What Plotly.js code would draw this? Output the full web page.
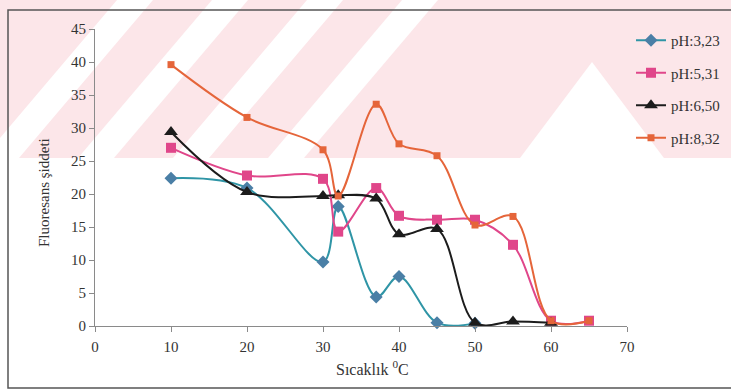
<!DOCTYPE html>
<html>
<head>
<meta charset="utf-8">
<script src="https://cdn.plot.ly/plotly-3.0.1.min.js"></script>
<style>
html,body{margin:0;padding:0;background:#fff;}
#chart{width:731px;height:390px;}
</style>
</head>
<body>
<div id="chart"></div>
<script>
// Temperatures (°C)
const temps = [10, 20, 30, 32, 37, 40, 45, 50, 55, 60, 65];
// Series values (fluorescence intensity)
const ph323 = [22.4, 20.9, 9.7, 18.1, 4.4, 7.5, 0.5, 0.4];
const ph531 = [27.0, 22.8, 22.3, 14.3, 20.9, 16.7, 16.1, 16.1, 12.3, 0.8, 0.8];
const ph650 = [29.4, 20.3, 19.7, 19.8, 19.3, 13.9, 14.7, 0.5, 0.7, 0.5];
const ph832 = [39.6, 31.6, 26.7, 19.7, 33.6, 27.6, 25.8, 15.3, 16.6, 0.8, 0.8];
const seriesNames = ['pH:3,23', 'pH:5,31', 'pH:6,50', 'pH:8,32'];
const xTicks = [0, 10, 20, 30, 40, 50, 60, 70];
const yTicks = [0, 5, 10, 15, 20, 25, 30, 35, 40, 45];

const L = 95, R = 627, T = 29, B = 326, W = 731, H = 390;
const px = v => (v - L) / (R - L);
const py = v => (B - v) / (B - T);

function mk(vals, name, lineColor, mColor, symbol, size, group) {
  return {
    x: temps.slice(0, vals.length), y: vals, name: name,
    type: 'scatter', mode: 'lines+markers',
    line: {color: lineColor, width: 2, shape: 'spline', smoothing: 1},
    marker: {color: mColor, symbol: symbol, size: size, line: {width: 0}},
    legendgroup: group, cliponaxis: false
  };
}

const data = [
  mk(ph323, seriesNames[0], '#2f95a6', '#4a7fa6', 'diamond', 10, 'a'),
  mk(ph531, seriesNames[1], '#e0468a', '#e0468a', 'square', 10, 'b'),
  mk(ph650, seriesNames[2], '#1c1c1c', '#1c1c1c', 'triangle-up', 12, 'c'),
  mk(ph832, seriesNames[3], '#e5653a', '#e5653a', 'square', 7, 'd')
];

const font = {family: '"Liberation Serif", "Times New Roman", serif', size: 15, color: '#333'};

// faint scanned watermark band (pixel geometry -> paper coords)
function poly(pts) {
  return 'M' + pts.map(p => px(p[0]).toFixed(4) + ',' + py(p[1]).toFixed(4)).join('L') + 'Z';
}
const pink = '#fce6e9';
const wm = [];
wm.push({type: 'path', xref: 'paper', yref: 'paper', layer: 'below', line: {width: 0},
         fillcolor: pink, path: poly([[0, 0], [731, 0], [731, 158], [0, 158]])});
[135, 230, 325, 420].forEach(c => {
  const w = 18, d = 134;
  wm.push({type: 'path', xref: 'paper', yref: 'paper', layer: 'below', line: {width: 0},
           fillcolor: '#ffffff', path: poly([[c - w, 0], [c + w, 0], [c + w - d, 158], [c - w - d, 158]])});
});
wm.push({type: 'path', xref: 'paper', yref: 'paper', layer: 'below', line: {width: 0},
         fillcolor: '#ffffff', path: poly([[592, 62], [664, 158], [520, 158]])});

const layout = {
  width: W, height: H,
  margin: {l: L, r: W - R, t: T, b: H - B, pad: 0, autoexpand: false},
  paper_bgcolor: '#fff', plot_bgcolor: 'rgba(0,0,0,0)',
  font: font,
  showlegend: true,
  legend: {x: px(631), y: py(24), xanchor: 'left', yanchor: 'top',
           font: {family: font.family, size: 15, color: '#333'},
           traceorder: 'grouped', tracegroupgap: 10, bgcolor: 'rgba(0,0,0,0)', itemwidth: 30},
  xaxis: {range: [0, 70], tickvals: xTicks, ticktext: xTicks.map(String),
          showgrid: false, zeroline: false, showline: true, linecolor: '#8a8a8a', linewidth: 1,
          ticks: 'outside', ticklen: 5, tickcolor: '#8a8a8a', tickfont: {size: 15, color: '#333'},
          fixedrange: true, ticklabelstandoff: 2},
  yaxis: {range: [0, 45], tickvals: yTicks, ticktext: yTicks.map(String),
          showgrid: false, zeroline: false, showline: true, linecolor: '#8a8a8a', linewidth: 1,
          ticks: 'outside', ticklen: 5, tickcolor: '#8a8a8a', tickfont: {size: 15, color: '#333'},
          fixedrange: true},
  annotations: [
    {xref: 'paper', yref: 'paper', x: px(44), y: py(193), xanchor: 'center', yanchor: 'middle',
     text: 'Fluoresans şiddeti',
     showarrow: false, textangle: -90, font: {family: font.family, size: 15, color: '#333'}},
    {xref: 'paper', yref: 'paper', x: px(372), y: py(368), xanchor: 'center', yanchor: 'middle',
     text: 'Sıcaklık <sup>0</sup>C',
     showarrow: false, font: {family: font.family, size: 16, color: '#333'}}
  ],
  shapes: wm.concat([
    {type: 'rect', xref: 'paper', yref: 'paper', x0: px(8), x1: px(735), y0: py(388), y1: py(10),
     line: {color: '#555', width: 1.5}, layer: 'below'}
  ])
};

Plotly.newPlot('chart', data, layout, {staticPlot: true, displayModeBar: false});
</script>
</body>
</html>
